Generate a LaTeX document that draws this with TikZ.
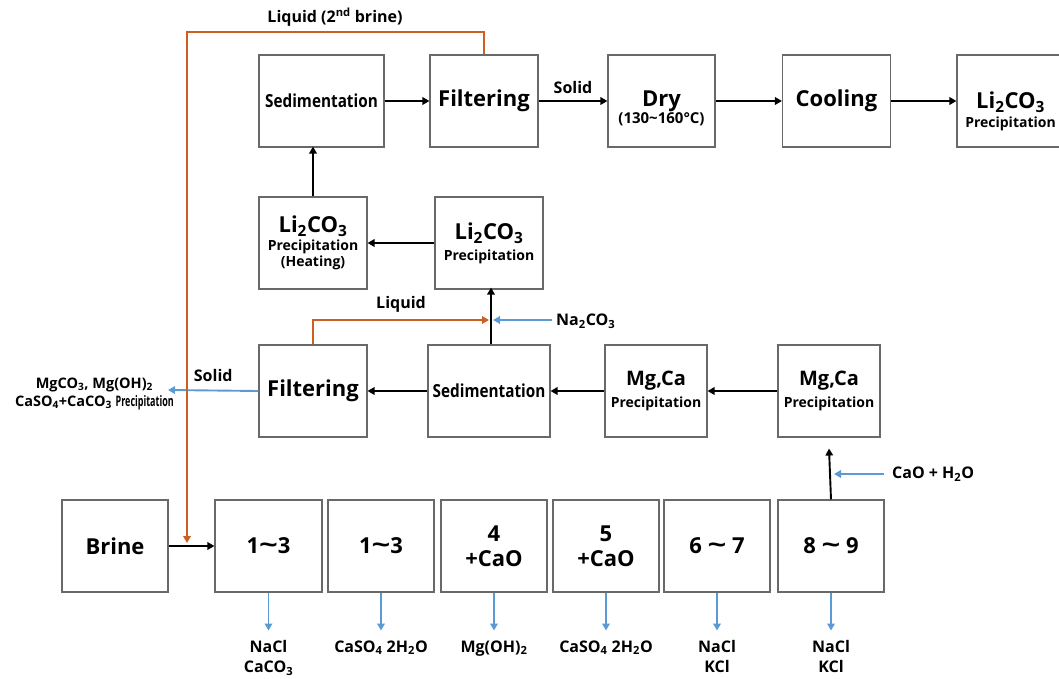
\documentclass[tikz,border=0pt]{standalone}
\usepackage{fontspec}
\setmainfont{Open Sans}
\usetikzlibrary{arrows.meta}
\definecolor{boxgray}{RGB}{105,105,105}
\definecolor{liq}{RGB}{205,95,35}
\definecolor{blu}{RGB}{91,155,213}
\newcommand\szL{\fontsize{22}{25}\selectfont}
\newcommand\szS{\fontsize{14}{18}\selectfont}
\newcommand\szM{\fontsize{16}{20}\selectfont}
\newcommand\sedtxt{\scalebox{0.85}[1]{\fontsize{18}{20}\selectfont Sedimentation}}
\newcommand\lico{Li\textsubscript{2}CO\textsubscript{3}}
\newcommand\tld{\scalebox{1.5}[1.1]{\textasciitilde}}
\begin{document}
\begin{tikzpicture}[x=1pt,y=-1pt,
  box/.style={draw=boxgray,line width=1.1pt,minimum height=92pt,inner sep=0pt,align=center,font=\bfseries\szL},
  two/.style={font=\bfseries\fontsize{14}{21}\selectfont},
  blk/.style={draw=black,line width=1.9pt,-{Triangle[length=7pt,width=7.5pt]}},
  bl/.style={draw=blu,line width=1.9pt,-{Triangle[length=7pt,width=7.5pt]}},
  orl/.style={draw=liq,line width=2.1pt,-{Triangle[length=7pt,width=7.5pt]}},
  lbl/.style={font=\bfseries\szM,align=center,inner sep=0pt}
]
\useasboundingbox (0,0) rectangle (1059,679);
% top row
\node[box,minimum width=125pt] (sedA) at (321.5,101) {\sedtxt};
\node[box,minimum width=108pt] (filA) at (484,101) {Filtering};
\node[box,minimum width=107pt,font=\bfseries\fontsize{15}{20}\selectfont] (dry) at (661.5,101) {\rule{0pt}{30pt}{\szL Dry}\\[-3pt](130\textasciitilde160°C)};
\node[box,minimum width=108pt] (cool) at (836.5,101) {Cooling};
\node[box,minimum width=107pt,font=\bfseries\fontsize{14}{19}\selectfont] (liA) at (1010.5,101) {\rule{0pt}{38pt}{\szL \lico}\\[0pt]Precipitation};
% second row
\node[box,minimum width=108pt,font=\bfseries\fontsize{14}{16}\selectfont] (heat) at (313,243) {{\szL \lico}\\[2pt]Precipitation\\(Heating)};
\node[box,two,minimum width=108pt] (liB) at (489,243) {{\szL \lico}\\Precipitation};
% third row
\node[box,minimum width=108pt] (filB) at (313,391) {Filtering};
\node[box,minimum width=122pt] (sedB) at (489,391) {\sedtxt};
\node[box,two,minimum width=102pt] (mgA) at (656,391) {{\fontsize{20}{24}\selectfont Mg,Ca}\\[1pt]Precipitation};
\node[box,two,minimum width=102pt] (mgB) at (829,391) {{\fontsize{20}{24}\selectfont Mg,Ca}\\[1pt]Precipitation};
% bottom row
\node[box,minimum width=106pt] (brine) at (115,546) {Brine};
\node[box,minimum width=107pt] (bA) at (268.5,546) {1\tld3};
\node[box,minimum width=106pt] (bB) at (381,546) {1\tld3};
\node[box,minimum width=106pt] (bC) at (494,546) {4\\+CaO};
\node[box,minimum width=106pt] (bD) at (606,546) {5\\+CaO};
\node[box,minimum width=106pt] (bE) at (717,546) {6 \tld{} 7};
\node[box,minimum width=106pt] (bF) at (831,546) {8 \tld{} 9};
% bottom outputs
\foreach \n/\t in {bA/{NaCl\\CaCO\textsubscript{3}},bB/{CaSO\textsubscript{4} 2H\textsubscript{2}O},bC/{Mg(OH)\textsubscript{2}},bD/{CaSO\textsubscript{4} 2H\textsubscript{2}O},bE/{NaCl\\KCl},bF/{NaCl\\KCl}}{
  \coordinate (\n o) at ([yshift=-38pt]\n.south);
  \draw[bl] (\n.south) -- (\n o);
  \node[lbl,anchor=north,yshift=-10pt] (\n t) at (\n o) {\t};
}
% top row arrows
\draw[blk] (sedA) -- (filA);
\draw[blk] (filA) -- node[lbl,above=6pt] (solA) {Solid} (dry);
\draw[blk] (dry) -- (cool);
\draw[blk] (cool) -- (liA);
\draw[blk] (heat.north) -- ([yshift=1pt]heat.north |- sedA.south);
\draw[blk] (liB) -- (heat);
% third row arrows
\draw[blk] (mgB) -- (mgA);
\draw[blk] (mgA) -- (sedB);
\draw[blk] (sedB) -- (filB);
\draw[blk] ([xshift=2pt]sedB.north) -- ([xshift=2pt,yshift=2pt]liB.south);
\coordinate (naj) at (493,320);
\coordinate (nas) at (552,320);
\draw[bl] (nas) -- (naj);
\node[lbl,anchor=west] (na) at (556,321) {Na\textsubscript{2}CO\textsubscript{3}};
\coordinate (liqj) at (489,320);
\draw[orl] (filB.north) |- node[lbl,pos=0.75,above=7pt] (liqlab) {Liquid} (liqj);
% solid output
\coordinate (solo) at (168,390);
\draw[bl] (filB.west) -- node[lbl,above=8pt] (solB) {Solid} (solo);
\node[align=center,inner sep=0pt,anchor=east,font=\bfseries\fontsize{14.5}{18}\selectfont] (outp) at (174,394)
  {MgCO\textsubscript{3}, Mg(OH)\textsubscript{2}\\CaSO\textsubscript{4}+CaCO\textsubscript{3} \scalebox{0.62}[1]{Precipitation}};
% CaO + H2O
\draw[blk] (bF.north) -- ([yshift=-11pt]mgB.south);
\coordinate (caoj) at (834,474);
\coordinate (caos) at (884,474);
\draw[bl] (caos) -- (caoj);
\node[lbl,anchor=west] (cao) at (892,474) {CaO + H\textsubscript{2}O};
% brine
\draw[blk] (brine) -- (bA);
\coordinate (ortop) at (187,32);
\coordinate (orbot) at (187,543);
\draw[orl] (filA.north) |- (ortop) -- (orbot);
\node[lbl] (liqtop) at (335,17) {Liquid (2\textsuperscript{nd} brine)};
\end{tikzpicture}
\end{document}
